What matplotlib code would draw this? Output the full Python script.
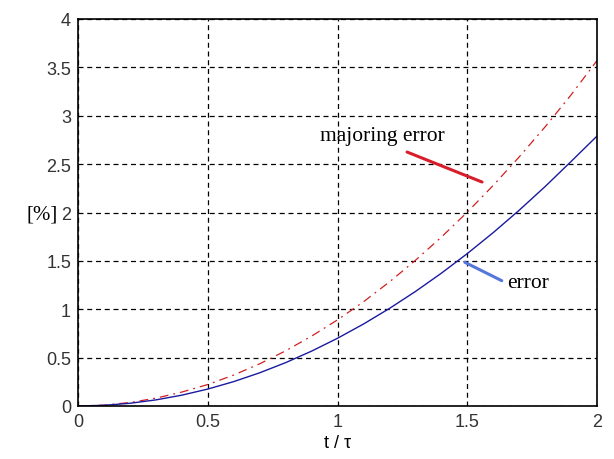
import matplotlib
matplotlib.use("Agg")
import matplotlib.pyplot as plt

t = [0.0, 0.1, 0.2, 0.3, 0.4, 0.5, 0.6, 0.7, 0.8, 0.9, 1.0,
     1.1, 1.2, 1.3, 1.4, 1.5, 1.6, 1.7, 1.8, 1.9, 2.0]
error = [0.0, 0.007, 0.028, 0.063, 0.112, 0.175, 0.252, 0.343, 0.448, 0.567, 0.70,
         0.847, 1.008, 1.183, 1.372, 1.575, 1.792, 2.023, 2.268, 2.527, 2.79]
majoring = [0.0, 0.009, 0.036, 0.081, 0.144, 0.222, 0.32, 0.436, 0.57, 0.722, 0.89,
            1.077, 1.282, 1.505, 1.745, 2.003, 2.28, 2.574, 2.885, 3.215, 3.57]
xticks = [0, 0.5, 1, 1.5, 2]
yticks = [0, 0.5, 1, 1.5, 2, 2.5, 3, 3.5, 4]
xtick_labels = ["0", "0.5", "1", "1.5", "2"]
ytick_labels = ["0", "0.5", "1", "1.5", "2", "2.5", "3", "3.5", "4"]

fig = plt.figure(figsize=(6.14, 4.6), dpi=100)
ax = fig.add_axes([78/614, 1 - 407/460, (597-78)/614, (407-20)/460])

ax.plot(t, majoring, color="#d02020", linestyle=(0, (7, 4, 1.5, 4)), linewidth=0.9)
ax.plot(t, error, color="#1a1aa0", linestyle="-", linewidth=1.0)

ax.set_xlim(0, 2)
ax.set_ylim(0, 4)
ax.set_xticks(xticks)
ax.set_xticklabels(xtick_labels)
ax.set_yticks(yticks)
ax.set_yticklabels(ytick_labels)
ax.tick_params(direction="in", length=0, labelsize=13, colors="#333333", pad=5)
for lab in ax.get_xticklabels() + ax.get_yticklabels():
    lab.set_family("Liberation Sans")
ax.grid(True, color="black", linestyle=(0, (4, 3)), linewidth=0.9)
for s in ax.spines.values():
    s.set_color("black")
    s.set_linewidth(1.2)

ax.set_xlabel("t / τ", family="Liberation Sans", fontsize=13, labelpad=3)
ax.text(-0.07, 0.496, "[%]", transform=ax.transAxes, family="Liberation Serif",
        fontsize=15, ha="center", va="center")

# leader lines
ax.annotate("", xy=(1.557, 2.315), xytext=(1.268, 2.625),
            arrowprops=dict(arrowstyle="-", color="#d81e2a", linewidth=2.2,
                            shrinkA=0, shrinkB=0))
ax.annotate("", xy=(1.491, 1.485), xytext=(1.633, 1.295),
            arrowprops=dict(arrowstyle="-", color="#5577dd", linewidth=2.2,
                            shrinkA=0, shrinkB=0))
ax.text(0.933, 2.80, "majoring error", family="Liberation Serif", fontsize=15.5,
        ha="left", va="center")
ax.text(1.655, 1.28, "error", family="Liberation Serif", fontsize=15.5,
        ha="left", va="center")

fig.savefig("out.png", dpi=100)
